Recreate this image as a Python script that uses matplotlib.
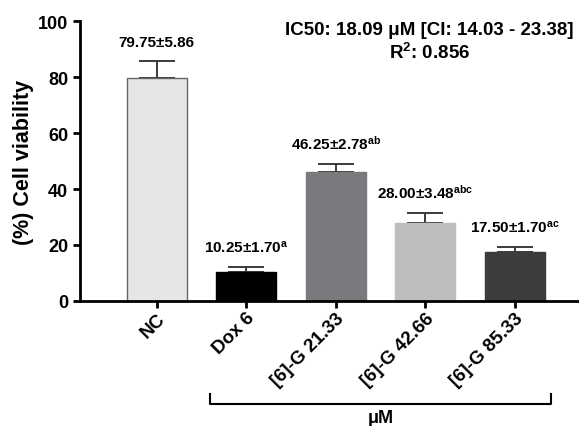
import matplotlib
matplotlib.use("Agg")
import matplotlib.pyplot as plt
import matplotlib.transforms as mtransforms

plt.rcParams['font.family'] = 'Liberation Sans'
plt.rcParams['font.weight'] = 'bold'
plt.rcParams['mathtext.fontset'] = 'custom'
plt.rcParams['mathtext.rm'] = 'Liberation Sans:bold'
plt.rcParams['mathtext.it'] = 'Liberation Sans:bold'
plt.rcParams['mathtext.bf'] = 'Liberation Sans:bold'

groups = ['NC', 'Dox 6', '[6]-G 21.33', '[6]-G 42.66', '[6]-G 85.33']
means = [79.75, 10.25, 46.25, 28.00, 17.50]
sds = [5.86, 1.70, 2.78, 3.48, 1.70]
letters = ['', 'a', 'ab', 'abc', 'ac']
colors = ['#e6e6e6', '#000000', '#7a7a7e', '#bebebe', '#3c3c3c']
edges = ['#666666', '#000000', '#7a7a7e', '#bebebe', '#3c3c3c']

fig = plt.figure(figsize=(5.79, 4.27), dpi=100)
ax = fig.add_axes([0.138, 0.293, 0.862, 0.655])

x = list(range(len(groups)))
ax.bar(x, means, width=0.67, color=colors, edgecolor=edges, linewidth=1, zorder=2)
ax.errorbar(x, means, yerr=[[0] * len(sds), sds], fmt='none', ecolor='#3a3a3a',
            elinewidth=1.4, capsize=13, capthick=1.4, zorder=1)

for xi, m, s, l in zip(x, means, sds, letters):
    lab = f'{m:.2f}±{s:.2f}'
    if l:
        lab += '$^{' + l + '}$'
    ax.annotate(lab, (xi, m + s), xytext=(0, 9), textcoords='offset points',
                ha='center', va='bottom', fontsize=11, fontweight='bold')

ax.set_xlim(-0.86, 4.72)
ax.set_ylim(0, 100)
ax.set_yticks([0, 20, 40, 60, 80, 100])
ax.set_xticks(x)
ax.set_xticklabels(groups, rotation=45, ha='right', rotation_mode='anchor',
                   fontsize=13.5, fontweight='bold')
ax.tick_params(axis='y', labelsize=13, width=2, length=5)
ax.tick_params(axis='x', width=2, length=5, pad=1)
for lbl in ax.get_yticklabels():
    lbl.set_fontweight('bold')
ax.set_ylabel('(%) Cell viability', fontsize=15.5, fontweight='bold', labelpad=3)

ax.spines['top'].set_visible(False)
ax.spines['right'].set_visible(False)
ax.spines['left'].set_linewidth(2)
ax.spines['bottom'].set_linewidth(2)

ax.text(0.70, 1.0, 'IC50: 18.09 μM [CI: 14.03 - 23.38]\nR$^2$: 0.856',
        transform=ax.transAxes, ha='center', va='top', fontsize=13.5,
        fontweight='bold', linespacing=1.25)

# bracket for the μM groups
trans = mtransforms.blended_transform_factory(ax.transData, ax.transAxes)
ax.plot([0.59, 0.59, 4.41, 4.41], [-0.332, -0.368, -0.368, -0.332], color='black',
        lw=1.5, transform=trans, clip_on=False)
ax.text(2.5, -0.385, 'μM', transform=trans, ha='center', va='top', fontsize=13,
        fontweight='bold')

fig.savefig('out.png', dpi=100)
